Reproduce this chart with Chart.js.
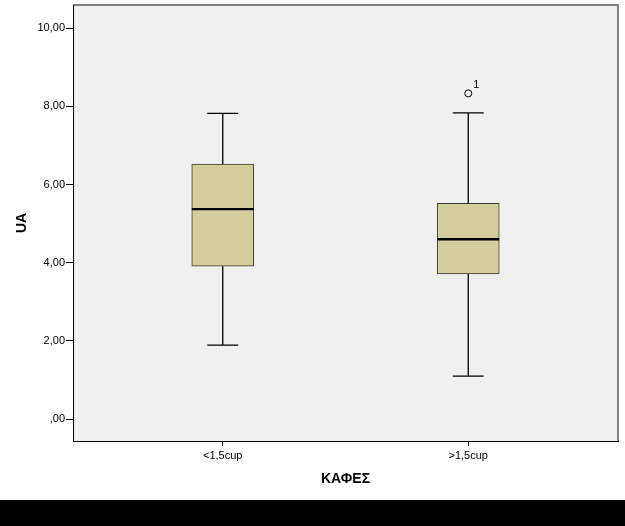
<!DOCTYPE html>
<html>
<head>
<meta charset="utf-8">
<script src="https://cdn.jsdelivr.net/npm/chart.js@4/dist/chart.umd.min.js"></script>
<style>
  body { margin: 0; background: #fff; }
  #wrap { width: 625px; height: 500px; }
  #band { width: 625px; height: 26px; background: #000; }
</style>
</head>
<body>
<div id="wrap"><canvas id="boxChart" width="625" height="500"></canvas></div>
<div id="band"></div>
<script>
// categories and box stats
const categories = ['<1,5cup', '>1,5cup'];
const whiskerLow = [1.89, 1.10];
const q1 = [3.91, 3.71];
const median = [5.37, 4.60];
const q3 = [6.52, 5.52];
const whiskerHigh = [7.82, 7.83];
// outliers: [category index, value, case label]
const outliers = [[1, 8.33, '1']];
const yTickValues = [0, 2, 4, 6, 8, 10];
const yTickLabels = [',00', '2,00', '4,00', '6,00', '8,00', '10,00'];

const capHalf = 0.063;
const boxHalf = 0.126;
const font = "Arial, 'Liberation Sans', sans-serif";

// build datasets from the arrays
const boxData = categories.map((c, i) => ({ x: i + 1, y: [q1[i], q3[i]] }));

const whiskerData = [];
const medianData = [];
categories.forEach((c, i) => {
  const x = i + 1;
  whiskerData.push({ x: x, y: q3[i] }, { x: x, y: whiskerHigh[i] }, { x: x, y: null });
  whiskerData.push({ x: x - capHalf, y: whiskerHigh[i] }, { x: x + capHalf, y: whiskerHigh[i] }, { x: x, y: null });
  whiskerData.push({ x: x, y: q1[i] }, { x: x, y: whiskerLow[i] }, { x: x, y: null });
  whiskerData.push({ x: x - capHalf, y: whiskerLow[i] }, { x: x + capHalf, y: whiskerLow[i] }, { x: x, y: null });
  medianData.push({ x: x - boxHalf, y: median[i] }, { x: x + boxHalf, y: median[i] }, { x: x, y: null });
});
const outlierData = outliers.map(o => ({ x: o[0] + 1, y: o[1] }));

// plot background + gray top/right frame
const frame = {
  id: 'frame',
  beforeDraw(chart) {
    const { ctx, chartArea: a } = chart;
    ctx.save();
    ctx.fillStyle = '#f0f0f0';
    ctx.fillRect(a.left, a.top, a.right - a.left, a.bottom - a.top);
    ctx.strokeStyle = '#808080';
    ctx.lineWidth = 2;
    ctx.beginPath();
    ctx.moveTo(a.left, a.top);
    ctx.lineTo(a.right, a.top);
    ctx.lineTo(a.right, a.bottom);
    ctx.stroke();
    ctx.restore();
  }
};

// case number next to outlier points
const outlierLabels = {
  id: 'outlierLabels',
  afterDatasetsDraw(chart) {
    const meta = chart.getDatasetMeta(3);
    const ctx = chart.ctx;
    ctx.save();
    ctx.fillStyle = '#000';
    ctx.font = '11px ' + font;
    ctx.textAlign = 'left';
    ctx.textBaseline = 'middle';
    meta.data.forEach((pt, i) => {
      ctx.fillText(outliers[i][2], pt.x + 5, pt.y - 8);
    });
    ctx.restore();
  }
};

new Chart(document.getElementById('boxChart'), {
  data: {
    datasets: [
      {
        type: 'bar',
        data: boxData,
        backgroundColor: '#d3ce9b',
        borderColor: '#3a3a30',
        borderWidth: 1,
        borderSkipped: false,
        barThickness: 62,
        order: 3
      },
      {
        type: 'line',
        data: whiskerData,
        borderColor: '#000',
        borderWidth: 1.3,
        pointRadius: 0,
        spanGaps: false,
        order: 2
      },
      {
        type: 'line',
        data: medianData,
        borderColor: '#000',
        borderWidth: 2.4,
        pointRadius: 0,
        spanGaps: false,
        order: 1
      },
      {
        type: 'scatter',
        data: outlierData,
        pointRadius: 3.5,
        pointBackgroundColor: 'rgba(0,0,0,0)',
        pointBorderColor: '#000',
        pointBorderWidth: 1,
        order: 0
      }
    ]
  },
  options: {
    responsive: false,
    animation: false,
    layout: { padding: { left: 0, right: 7, top: 5, bottom: 0 } },
    plugins: { legend: { display: false }, tooltip: { enabled: false } },
    scales: {
      x: {
        type: 'linear',
        min: 0.39,
        max: 2.61,
        offset: false,
        afterBuildTicks(scale) {
          scale.ticks = categories.map((c, i) => ({ value: i + 1 }));
        },
        afterFit(scale) {
          scale.height = 59;
          scale.paddingLeft = 0;
          scale.paddingRight = 0;
        },
        ticks: {
          autoSkip: false,
          maxRotation: 0,
          padding: 3,
          color: '#000',
          font: { family: font, size: 11 },
          callback: (v) => categories[v - 1]
        },
        grid: { drawOnChartArea: false, offset: false, tickLength: 5, color: '#000' },
        border: { color: '#000', width: 1 },
        title: {
          display: true,
          text: 'ΚΑΦΕΣ',
          color: '#000',
          font: { family: font, size: 14, weight: 'bold' },
          padding: { top: 4, bottom: 12 }
        }
      },
      y: {
        min: -0.56,
        max: 10.59,
        afterBuildTicks(scale) {
          scale.ticks = yTickValues.map(v => ({ value: v }));
        },
        afterFit(scale) {
          scale.width = 73;
          scale.paddingTop = 0;
          scale.paddingBottom = 0;
        },
        ticks: {
          padding: 1,
          color: '#000',
          font: { family: font, size: 11 },
          callback: (v) => yTickLabels[yTickValues.indexOf(v)]
        },
        grid: { drawOnChartArea: false, tickLength: 7, color: '#000' },
        border: { color: '#000', width: 1 },
        title: {
          display: true,
          text: 'UA',
          color: '#000',
          font: { family: font, size: 14, weight: 'bold' },
          padding: { top: 14, bottom: 0 }
        }
      }
    }
  },
  plugins: [frame, outlierLabels]
});
</script>
</body>
</html>
